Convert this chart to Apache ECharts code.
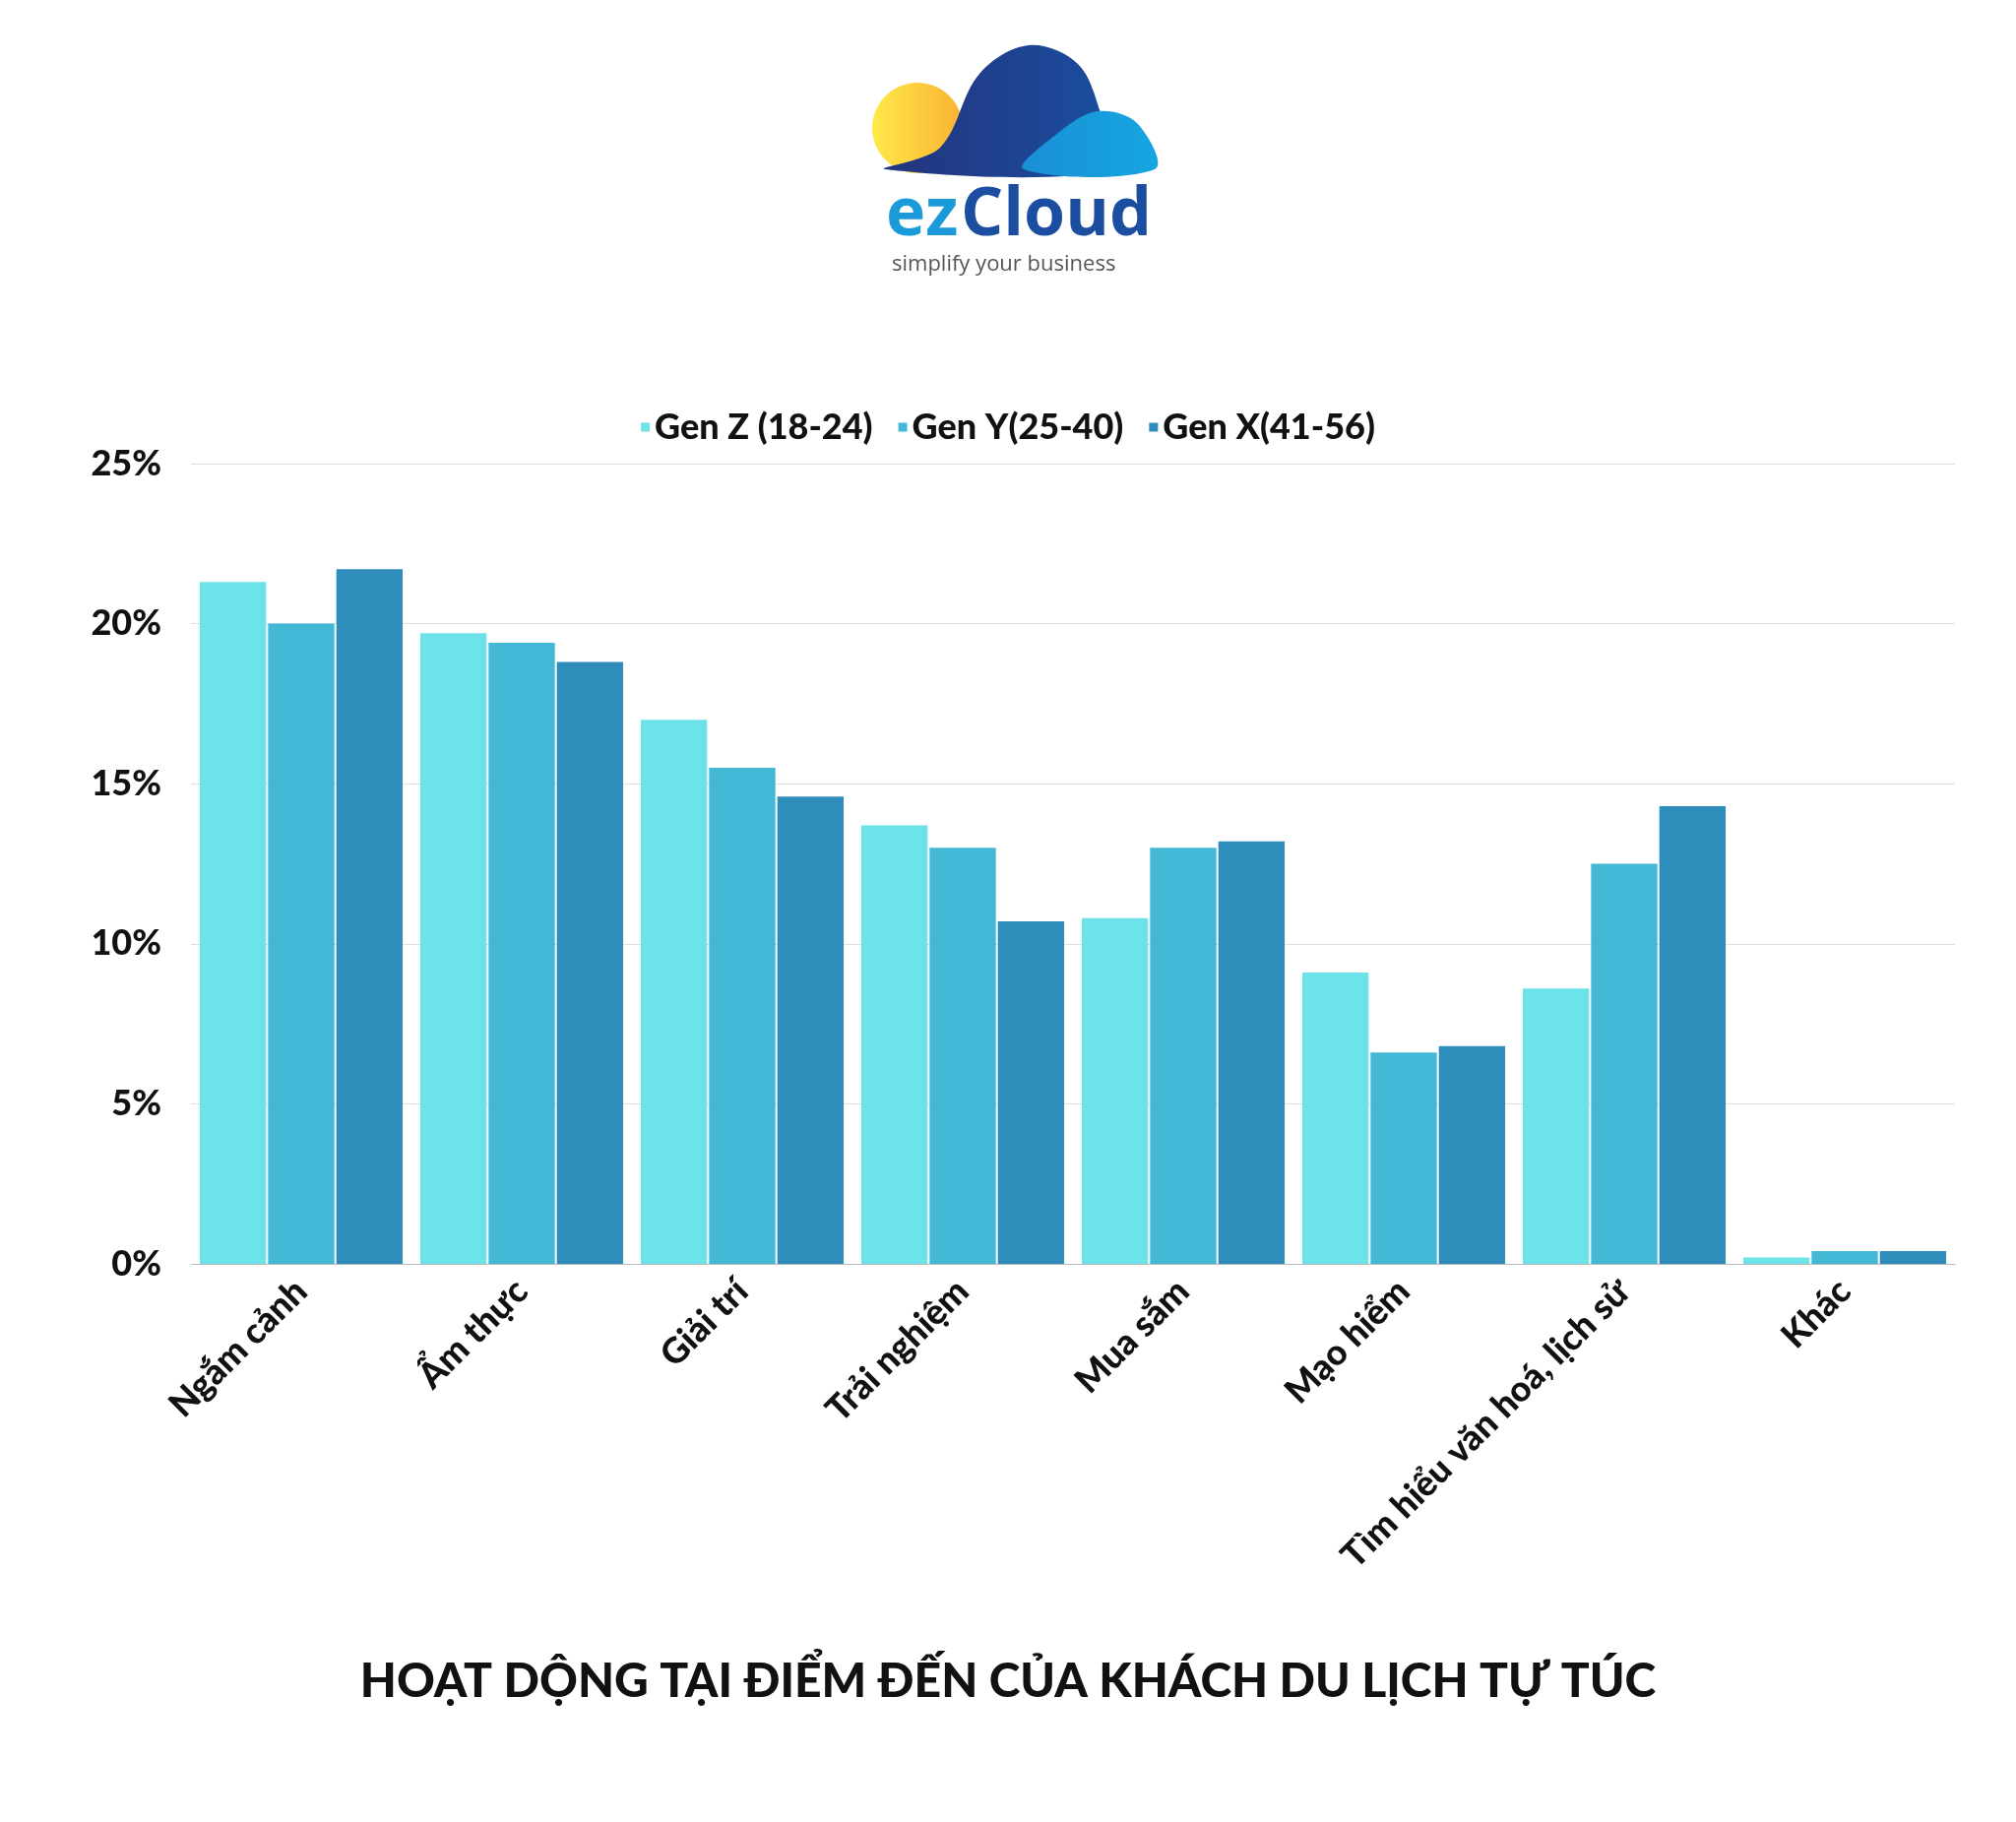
<!DOCTYPE html>
<html>
<head>
<meta charset="utf-8">
<title>Hoạt động tại điểm đến</title>
<script src="https://cdn.jsdelivr.net/npm/echarts@6/dist/echarts.min.js"></script>
<style>body{margin:0;background:#fff}#main{width:2048px;height:1851px}</style>
</head>
<body>
<div id="main"></div>
<script>
var categories = ['Ngắm cảnh', 'Ẩm thực', 'Giải trí', 'Trải nghiệm', 'Mua sắm', 'Mạo hiểm', 'Tìm hiểu văn hoá, lịch sử', 'Khác'];
var genZ = [21.3, 19.7, 17.0, 13.7, 10.8, 9.1, 8.6, 0.2];
var genY = [20.0, 19.4, 15.5, 13.0, 13.0, 6.6, 12.5, 0.4];
var genX = [21.7, 18.8, 14.6, 10.7, 13.2, 6.8, 14.3, 0.4];
var seriesNames = ['Gen Z (18-24)', 'Gen Y(25-40)', 'Gen X(41-56)'];
var colors = ['#6be3e8', '#43b7d6', '#2e8dbb'];

var font = 'Lato';
var chart = echarts.init(document.getElementById('main'));
var option = {
    backgroundColor: '#fff',
    color: colors,
    textStyle: {fontFamily: font},
    title: {
        text: 'HOẠT DỘNG TẠI ĐIỂM ĐẾN CỦA KHÁCH DU LỊCH TỰ TÚC',
        left: 'center', top: 1680,
        textStyle: {fontSize: 48, fontWeight: 900, color: '#111', fontFamily: font}
    },
    legend: {
        data: seriesNames, top: 411, left: 'center',
        icon: 'rect', itemWidth: 9, itemHeight: 9, itemGap: 26,
        textStyle: {fontSize: 36, fontWeight: 900, color: '#111'}
    },
    grid: {left: 194, right: 62, top: 471, bottom: 567},
    xAxis: {
        type: 'category', data: categories,
        axisTick: {show: false},
        axisLine: {lineStyle: {color: '#bbb'}},
        axisLabel: {rotate: 45, fontSize: 36, fontWeight: 900, color: '#111', interval: 0, margin: 22}
    },
    yAxis: {
        type: 'value', min: 0, max: 25, interval: 5,
        axisLabel: {formatter: '{value}%', fontSize: 36, fontWeight: 900, color: '#111', margin: 30},
        splitLine: {lineStyle: {color: '#dedede'}}
    },
    series: [
        {name: seriesNames[0], type: 'bar', data: genZ, barGap: '3%', barCategoryGap: '8%'},
        {name: seriesNames[1], type: 'bar', data: genY},
        {name: seriesNames[2], type: 'bar', data: genX}
    ],
    graphic: [
        {type: 'circle', shape: {cx: 932, cy: 130, r: 46}, style: {fill: new echarts.graphic.LinearGradient(0, 0, 1, 0, [{offset: 0, color: '#ffe94a'}, {offset: 1, color: '#f9b233'}])}},
        {type: 'polygon', shape: {smooth: 0.35, points: [[900, 172], [955, 150], [995, 75], [1045, 46], [1095, 65], [1120, 120], [1135, 172]]},
            style: {fill: new echarts.graphic.LinearGradient(0, 0, 1, 0, [{offset: 0, color: '#23347e'}, {offset: 1, color: '#1a4fa0'}])}},
        {type: 'polygon', shape: {smooth: 0.35, points: [[1040, 172], [1075, 135], [1115, 113], [1155, 125], [1173, 172]]},
            style: {fill: new echarts.graphic.LinearGradient(0, 0, 1, 0, [{offset: 0, color: '#1a8fd6'}, {offset: 1, color: '#16a6e0'}])}},
        {type: 'text', left: 900, top: 186, style: {text: 'ez', fontSize: 68, fontWeight: 'bold', fill: '#1a9ad9', fontFamily: 'Open Sans'}},
        {type: 'text', left: 976, top: 186, style: {text: 'Cloud', fontSize: 68, fontWeight: 'bold', fill: '#1b4ea0', fontFamily: 'Open Sans'}},
        {type: 'text', left: 906, top: 258, style: {text: 'simplify your business', fontSize: 22, fill: '#555', fontFamily: 'Open Sans'}}
    ]
};
chart.setOption(option);
</script>
</body>
</html>
